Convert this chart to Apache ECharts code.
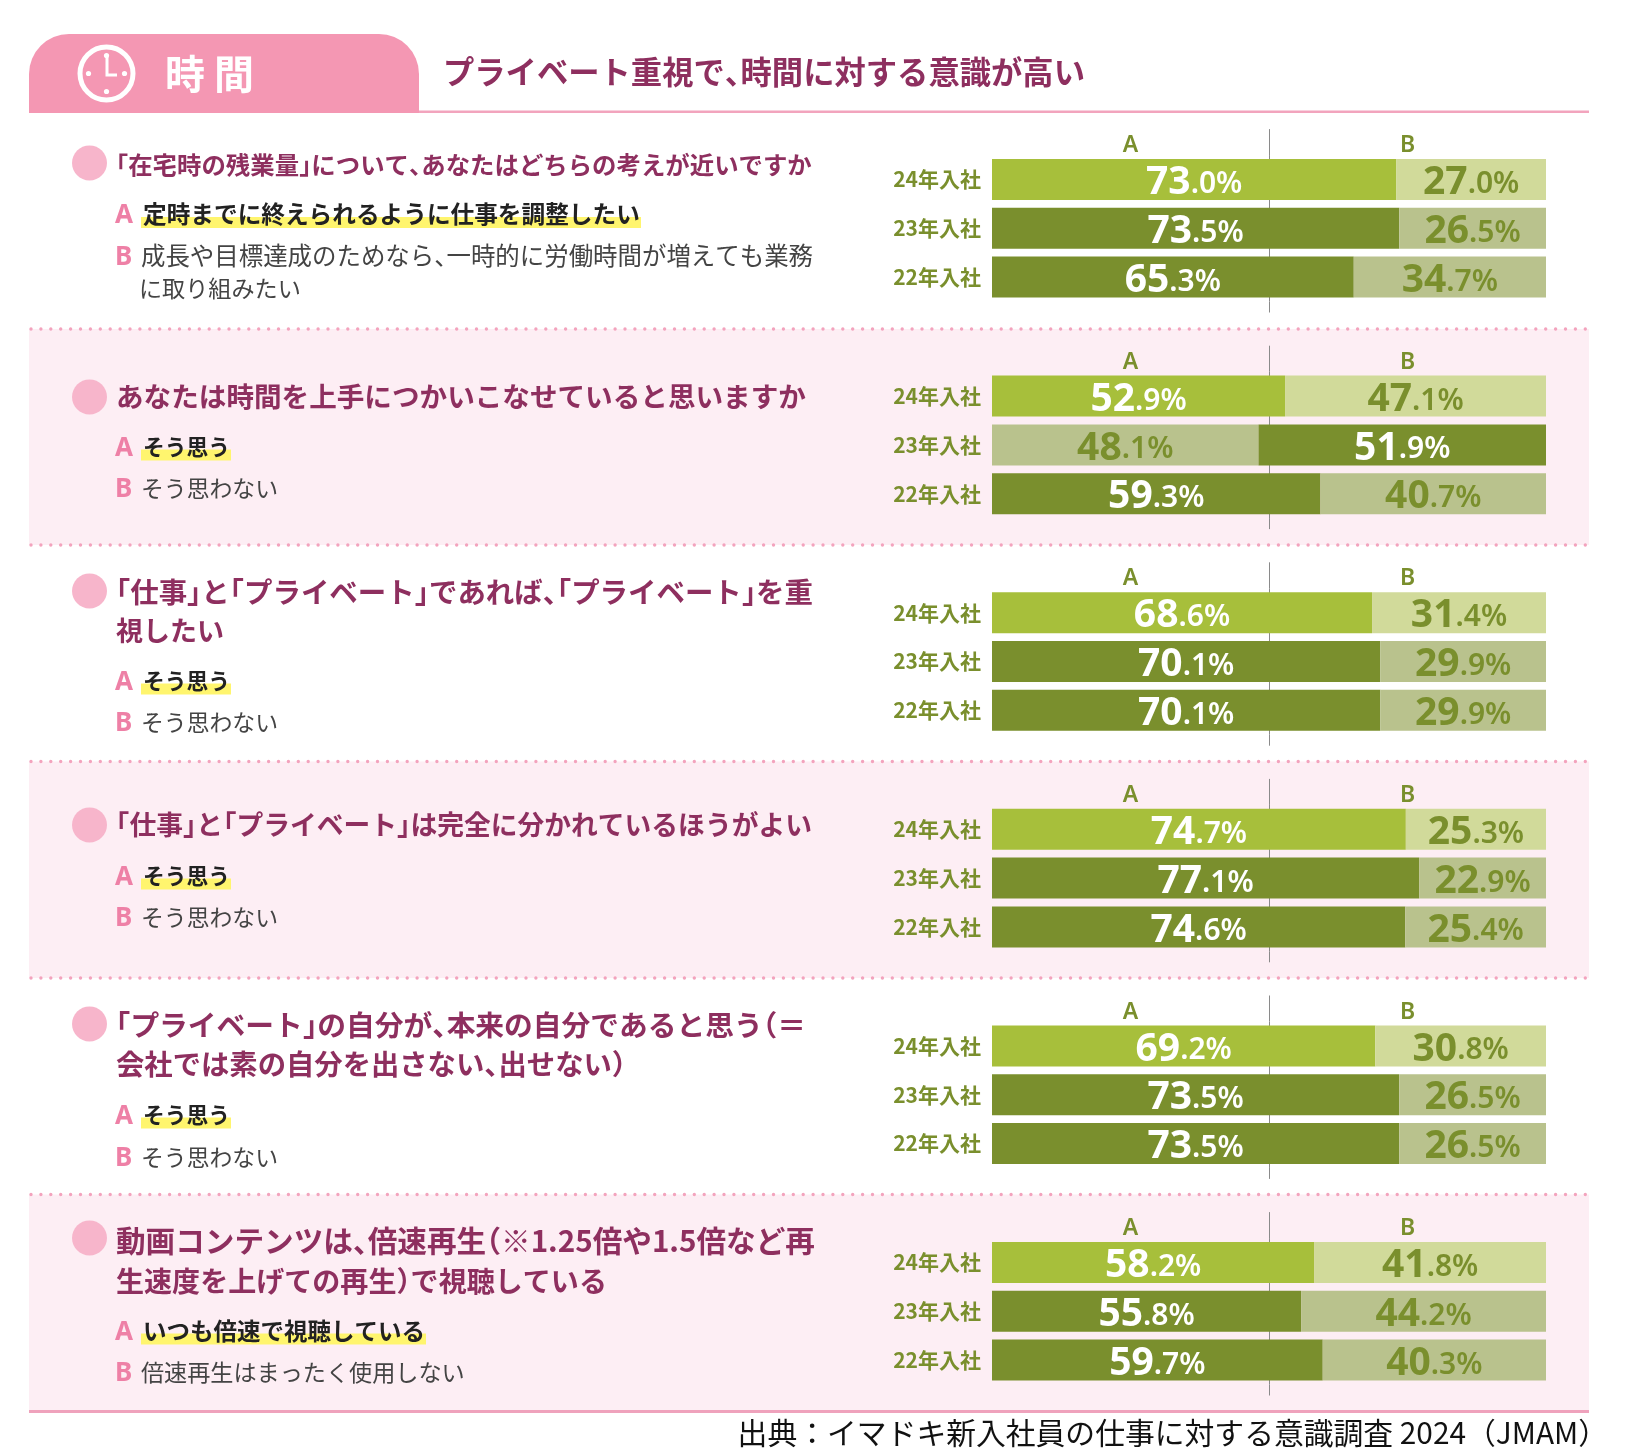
<!DOCTYPE html>
<html><head><meta charset="utf-8">
<style>html,body{margin:0;padding:0;background:#fff}#c{width:1625px;height:1452px}</style>
<script src="https://cdn.jsdelivr.net/npm/echarts@6/dist/echarts.min.js"></script>
</head><body><div id="c"></div>
<script>
// ---------- data ----------
const cohorts = ['24年入社', '23年入社', '22年入社'];
const sideNames = ['A', 'B'];
const q1A = [73.0, 73.5, 65.3], q1B = [27.0, 26.5, 34.7];
const q2A = [52.9, 48.1, 59.3], q2B = [47.1, 51.9, 40.7];
const q3A = [68.6, 70.1, 70.1], q3B = [31.4, 29.9, 29.9];
const q4A = [74.7, 77.1, 74.6], q4B = [25.3, 22.9, 25.4];
const q5A = [69.2, 73.5, 73.5], q5B = [30.8, 26.5, 26.5];
const q6A = [58.2, 55.8, 59.7], q6B = [41.8, 44.2, 40.3];
const seriesA = [q1A, q2A, q3A, q4A, q5A, q6A];
const seriesB = [q1B, q2B, q3B, q4B, q5B, q6B];

const tabTitle = '時 間';
const headline = 'プライベート重視で、時間に対する意識が高い';
const source = '出典：イマドキ新入社員の仕事に対する意識調査 2024（JMAM）';
const q1Text = ['「在宅時の残業量」について、あなたはどちらの考えが近いですか'];
const q2Text = ['あなたは時間を上手につかいこなせていると思いますか'];
const q3Text = ['「仕事」と「プライベート」であれば、「プライベート」を重', '視したい'];
const q4Text = ['「仕事」と「プライベート」は完全に分かれているほうがよい'];
const q5Text = ['「プライベート」の自分が、本来の自分であると思う（＝', '会社では素の自分を出さない、出せない）'];
const q6Text = ['動画コンテンツは、倍速再生（※1.25倍や1.5倍など再', '生速度を上げての再生）で視聴している'];
const questions = [q1Text, q2Text, q3Text, q4Text, q5Text, q6Text];
const answersA = ['定時までに終えられるように仕事を調整したい', 'そう思う', 'そう思う', 'そう思う', 'そう思う', 'いつも倍速で視聴している'];
const answersB = [['成長や目標達成のためなら、一時的に労働時間が増えても業務', 'に取り組みたい'], ['そう思わない'], ['そう思わない'], ['そう思わない'], ['そう思わない'], ['倍速再生はまったく使用しない']];

// ---------- layout ----------
const CJK = '"Noto Sans CJK JP"', NUM = '"Noto Sans"';
const PINK = '#F497B3', PLUM = '#8E2F5F', BULLET = '#F7B5CB', LETTER = '#EE80A6';
const GREEN = '#7A8F2D', BRIGHT = '#A7BF3B', PALE = '#D1DA9A', MUTED = '#B9C28D';
const dividerY = [329, 545, 761.5, 978, 1194.5];
const barTop = [155.1, 371.7, 588.3, 804.9, 1021.5, 1238.1];
const qY = [[165], [397], [592, 631], [825], [1025, 1064], [1240.5, 1281]];
const qRight = [[812], [806], [813, 224], [812], [806, 626], [815, 607]];
const bulletY = [163, 397, 591, 825, 1024, 1238];
const aY = [214.5, 447, 681, 876, 1115, 1331];
const aRight = [640, 230, 230, 230, 230, 425];
const bY = [[256, 288], [488], [722], [917], [1157], [1372]];
const bRight = [[813, 301], [278], [278], [278], [278], [465]];

// ---------- text fitting ----------
const mctx = document.createElement('canvas').getContext('2d');
const OPEN = '「（', CLOSE = '」）、';
function splitRuns(s) {
  const out = []; let cur = '';
  for (const ch of s) {
    if (OPEN.includes(ch) || CLOSE.includes(ch)) {
      if (cur) out.push({ t: cur }); cur = '';
      out.push({ t: ch, open: OPEN.includes(ch), half: true });
    } else cur += ch;
  }
  if (cur) out.push({ t: cur });
  return out;
}
function fitRuns(s, weight, x0, x1, y, fill, z) {
  const runs = splitRuns(s);
  mctx.font = weight + ' 100px ' + CJK;
  let w = 0;
  runs.forEach(r => { w += r.half ? 50 : mctx.measureText(r.t).width; });
  const size = 100 * (x1 - x0) / w;
  const font = weight + ' ' + size.toFixed(2) + 'px ' + CJK;
  let x = x0; const els = [];
  runs.forEach(r => {
    els.push({ type: 'text', z: z || 5, style: { x: r.open ? x - size / 2 : x, y, text: r.t, fill, font, align: 'left', verticalAlign: 'middle' } });
    x += r.half ? size / 2 : mctx.measureText(r.t).width * size / 100;
  });
  return els;
}
const T = (x, y, text, fill, font, align) => ({ type: 'text', z: 5, style: { x, y, text, fill, font, align: align || 'left', verticalAlign: 'middle' } });

// ---------- decoration ----------
const g = [];
[1, 3, 5].forEach(i => {
  const top = dividerY[i - 1], bot = i === 5 ? 1411 : dividerY[i];
  g.push({ type: 'rect', z: -10, shape: { x: 29, y: top, width: 1560, height: bot - top }, style: { fill: '#FDEEF4' } });
});
dividerY.forEach(y => g.push({ type: 'line', z: -5, shape: { x1: 31, y1: y, x2: 1589, y2: y }, style: { stroke: '#F3A3BD', lineWidth: 3.4, lineDash: [0, 9.9], lineCap: 'round' } }));
g.push({ type: 'rect', z: -5, shape: { x: 29, y: 1410, width: 1560, height: 3 }, style: { fill: '#EFA2BC' } });
g.push({ type: 'rect', z: -5, shape: { x: 29, y: 110.5, width: 1560, height: 2.6 }, style: { fill: '#F2A4BD' } });
g.push({ type: 'rect', z: -4, shape: { x: 29, y: 34, width: 390, height: 79, r: [40, 40, 0, 0] }, style: { fill: PINK } });
g.push({ type: 'circle', z: 4, shape: { cx: 106.5, cy: 73.5, r: 26.5 }, style: { fill: 'none', stroke: '#fff', lineWidth: 5 } });
[[0, -18], [18, 0], [0, 18], [-18, 0]].forEach(d => g.push({ type: 'circle', z: 4, shape: { cx: 106.5 + d[0], cy: 73.5 + d[1], r: 2.6 }, style: { fill: '#fff' } }));
g.push({ type: 'polyline', z: 4, shape: { points: [[107, 57], [107, 75], [117, 75]] }, style: { fill: 'none', stroke: '#fff', lineWidth: 3 } });
g.push(T(165, 74, tabTitle, '#fff', '700 40px ' + CJK));
g.push(...fitRuns(headline, 700, 443, 1085, 72.5, PLUM));
g.push(T(1608, 1433, source, '#111', '400 29.8px ' + CJK, 'right'));

questions.forEach((lines, i) => {
  g.push({ type: 'ellipse', z: 4, shape: { cx: 89.5, cy: bulletY[i], rx: 17.5, ry: 17.5 }, style: { fill: BULLET } });
  lines.forEach((ln, k) => g.push(...fitRuns(ln, 700, 116, qRight[i][k], qY[i][k], PLUM)));
  g.push(T(115, aY[i] + 1.5, sideNames[0], LETTER, '700 26px ' + NUM));
  g.push({ type: 'rect', z: 2, shape: { x: 141, y: aY[i] + 2.5, width: aRight[i] - 141 + 1, height: 11 }, style: { fill: '#FFF56E' } });
  g.push(...fitRuns(answersA[i], 700, 143, aRight[i], aY[i], '#222'));
  g.push(T(115, bY[i][0] + 1.5, sideNames[1], LETTER, '700 26px ' + NUM));
  answersB[i].forEach((ln, k) => g.push(...fitRuns(ln, 400, k ? 139 : 141, bRight[i][k], bY[i][k], '#444')));
});

// ---------- charts ----------
const grids = [], xAxes = [], yAxes = [], series = [];
const richFor = (color) => ({
  a: { fontFamily: NUM, fontWeight: 700, fontSize: 39, lineHeight: 42, verticalAlign: 'bottom', color },
  b: { fontFamily: NUM, fontWeight: 600, fontSize: 30, lineHeight: 42, verticalAlign: 'bottom', color, padding: [0, 0, 3, 0] }
});
function fmt(v) {
  const s = v.toFixed(1).split('.');
  return '{a|' + s[0] + '}{b|.' + s[1] + '%}';
}
const TICK = '#8a8a8a';
function item(v, other, r, isA) {
  const strong = r === 0 ? isA : v >= other;
  const col = r === 0 ? (isA ? BRIGHT : PALE) : (strong ? GREEN : MUTED);
  return { value: v, itemStyle: { color: col }, label: { rich: richFor(strong ? '#fff' : GREEN) } };
}
seriesA.forEach((a, i) => {
  const b = seriesB[i];
  grids.push({ left: 992, width: 554, top: barTop[i], height: 146.4 });
  xAxes.push({
    gridIndex: i, type: 'value', position: 'top', min: 0, max: 100,
    axisLine: { show: false },
    axisTick: { show: true, customValues: [50], length: 26, lineStyle: { color: TICK, width: 1 } },
    axisLabel: { show: true, customValues: [25, 75], margin: -2, color: GREEN, fontFamily: NUM, fontWeight: 600, fontSize: 23,
      formatter: v => v < 50 ? sideNames[0] : sideNames[1] },
    splitLine: { show: true, customValues: [50], lineStyle: { color: TICK, width: 1 } }
  });
  xAxes.push({
    gridIndex: i, type: 'value', position: 'bottom', min: 0, max: 100,
    axisLine: { show: false }, axisLabel: { show: false }, splitLine: { show: false },
    axisTick: { show: true, customValues: [50], length: 11, lineStyle: { color: TICK, width: 1 } }
  });
  yAxes.push({
    gridIndex: i, type: 'category', inverse: true, data: cohorts,
    axisLine: { show: false }, axisTick: { show: false }, splitLine: { show: false },
    axisLabel: { margin: 11, color: GREEN, fontFamily: CJK, fontWeight: 700, fontSize: 21 }
  });
  const base = { type: 'bar', stack: 'q' + i, xAxisIndex: i * 2, yAxisIndex: i, barWidth: 41, silent: true };
  const lab = { show: true, position: 'inside', offset: [0, 2], formatter: p => fmt(p.value) };
  series.push(Object.assign({}, base, { name: 'A', data: a.map((v, r) => item(v, b[r], r, true)), label: lab }));
  series.push(Object.assign({}, base, { name: 'B', data: b.map((v, r) => item(v, a[r], r, false)), label: lab }));
});

const chart = echarts.init(document.getElementById('c'), null, { renderer: 'canvas' });
chart.setOption({
  animation: false, backgroundColor: '#fff',
  grid: grids, xAxis: xAxes, yAxis: yAxes, series, graphic: { elements: g }
});
</script></body></html>
